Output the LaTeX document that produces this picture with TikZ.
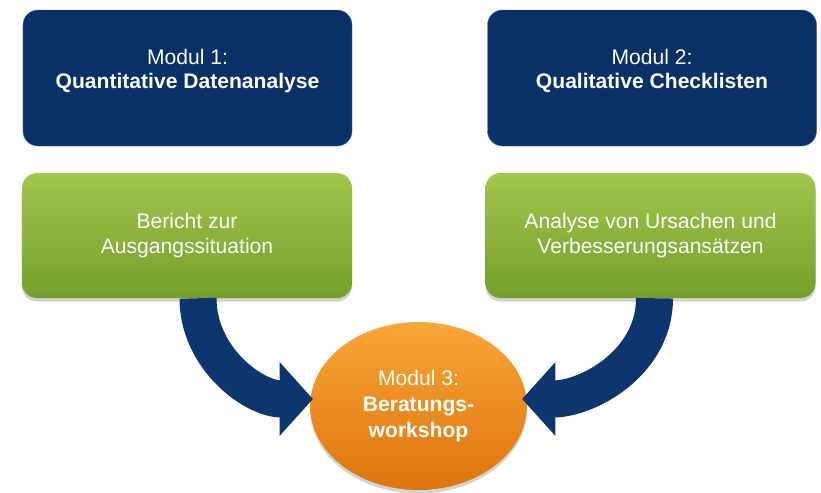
\documentclass[tikz,border=0pt]{standalone}
\usepackage{fontspec}
\setmainfont{Liberation Sans}
\usetikzlibrary{shapes.geometric,arrows.meta,shadows,calc}
\definecolor{modblue}{RGB}{10,48,104}
\definecolor{modedge}{RGB}{70,105,160}
\definecolor{greentop}{RGB}{162,198,78}
\definecolor{greenbot}{RGB}{116,158,42}
\definecolor{orangetop}{RGB}{248,166,56}
\definecolor{orangebot}{RGB}{222,116,12}
\definecolor{arrowblue}{RGB}{14,54,110}

\begin{document}
\begin{tikzpicture}[x=0.03cm,y=-0.03cm,
    modul/.style={draw=modedge, fill=modblue, rounded corners=0.45cm,
      minimum width=9.87cm, minimum height=4.08cm, text=white, align=center,
      text depth=0.55cm, font=\fontsize{18}{21}\selectfont},
    result/.style={top color=greentop, bottom color=greenbot, rounded corners=0.45cm,
      minimum width=9.9cm, minimum height=3.75cm, text=white, align=center,
      font=\fontsize{18}{21.5}\selectfont,
      drop shadow={shadow xshift=0pt, shadow yshift=-3pt, opacity=.35}},
    workshop/.style={ellipse, top color=orangetop, bottom color=orangebot,
      minimum width=6.5cm, minimum height=5.04cm, inner sep=0pt, text=white,
      align=center, font=\fontsize{18}{22.5}\selectfont,
      drop shadow={shadow xshift=0pt, shadow yshift=-3pt, opacity=.35}},
    flowarrow/.style={draw=arrowblue, line width=1.11cm,
      -{Triangle[width=2.16cm,length=1cm]}}]
      \useasboundingbox (0,0) rectangle (821,492);

      % modules on top
      \node (quant) at (187.5,78) [modul] {Modul 1:\\\textbf{Quantitative Datenanalyse}};
      \node (qual) at (652,78) [modul] {Modul 2:\\\textbf{Qualitative Checklisten}};

      % results
      \node (ber) at (187,235.5) [result] {Bericht zur\\Ausgangssituation};
      \node (ana) at (650.5,235.5) [result] {Analyse von Ursachen und\\Verbesserungsans\"atzen};

      % workshop
      \node (work) at (418.5,406) [workshop] {Modul 3:\\\textbf{Beratungs-}\\\textbf{workshop}};

      \draw[flowarrow] ($(ber.south)+(11,0)$) to [out=-90,in=180] ($(work.west)+(3,-7)$);
      \draw[flowarrow] ($(ana.south)+(4,0)$) to [out=-90,in=0] ($(work.east)+(-5,-7)$);

    \end{tikzpicture}
\end{document}
